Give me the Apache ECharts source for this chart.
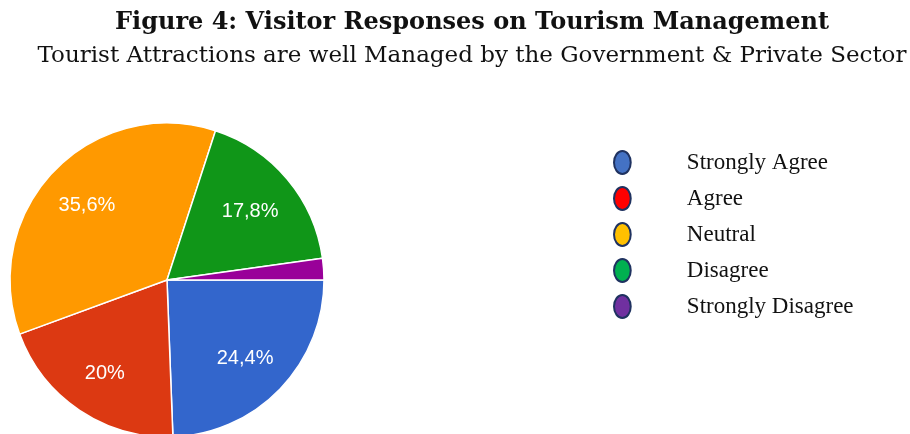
<!DOCTYPE html>
<html>
<head>
<meta charset="utf-8">
<script src="https://cdn.jsdelivr.net/npm/echarts@6/dist/echarts.min.js"></script>
<style>
  html, body { margin: 0; padding: 0; background: #ffffff; }
  #chart { width: 910px; height: 434px; }
</style>
</head>
<body>
<div id="chart"></div>
<script>
// Survey answers and their shares (percent)
const categories = ['Strongly Agree', 'Agree', 'Neutral', 'Disagree', 'Strongly Disagree'];
const shares = [24.4, 20, 35.6, 17.8, 2.2];

// Slice fills and legend marker fills
const sliceColors = ['#3366cc', '#dc3912', '#ff9900', '#109618', '#990099'];
const legendColors = ['#4472c4', '#ff0000', '#ffc000', '#00b050', '#7030a0'];

const pieCenter = [167, 280];
const pieRadius = 157;

const chart = echarts.init(document.getElementById('chart'), null, { renderer: 'canvas' });

const sliceData = categories.map((name, i) => ({
  name,
  value: shares[i],
  itemStyle: { color: sliceColors[i] }
}));

const fmt = p => String(p.value).replace('.', ',') + '%';

chart.setOption({
  animation: false,
  backgroundColor: '#ffffff',
  title: [
    {
      text: 'Figure 4: Visitor Responses on Tourism Management',
      left: 472,
      textAlign: 'center',
      top: 11,
      padding: 0,
      textStyle: { fontFamily: 'DejaVu Serif', fontWeight: 'bold', fontSize: 24, color: '#111111' }
    },
    {
      text: 'Tourist Attractions are well Managed by the Government & Private Sector',
      left: 472,
      textAlign: 'center',
      top: 45,
      padding: 0,
      textStyle: { fontFamily: 'DejaVu Serif', fontWeight: 'normal', fontSize: 23, color: '#111111' }
    }
  ],
  legend: {
    orient: 'vertical',
    left: 608,
    top: 145,
    itemWidth: 17,
    itemHeight: 23,
    itemGap: 11,
    selectedMode: false,
    // tall oval marker
    icon: 'path://M8,0 A8,11 0 1,1 8,22 A8,11 0 1,1 8,0 Z',
    textStyle: {
      fontFamily: 'Liberation Serif',
      fontSize: 23,
      color: '#111111',
      padding: [0, 0, 0, 51]
    },
    data: categories.map((name, i) => ({
      name,
      itemStyle: { color: legendColors[i], borderColor: '#1f3260', borderWidth: 2 }
    }))
  },
  series: [
    {
      type: 'pie',
      center: pieCenter,
      radius: [0, pieRadius],
      startAngle: 0,
      clockwise: true,
      silent: true,
      data: sliceData,
      itemStyle: { borderColor: '#ffffff', borderWidth: 1.5 },
      label: { show: false },
      labelLine: { show: false }
    },
    {
      // transparent ring that only carries the percentage labels
      type: 'pie',
      center: pieCenter,
      radius: [pieRadius * 0.36, pieRadius],
      startAngle: 0,
      clockwise: true,
      silent: true,
      legendHoverLink: false,
      data: sliceData.map(d => ({
        name: d.name,
        value: d.value,
        itemStyle: { color: 'rgba(0,0,0,0)', borderWidth: 0 },
        label: { show: d.value >= 5 }
      })),
      label: {
        position: 'inside',
        formatter: fmt,
        color: '#ffffff',
        fontFamily: 'Liberation Sans',
        fontSize: 20,
        offset: [-1, 2]
      },
      labelLine: { show: false }
    }
  ]
});
</script>
</body>
</html>
